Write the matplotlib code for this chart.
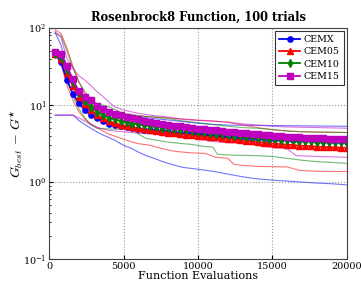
import matplotlib
matplotlib.use("Agg")
import matplotlib.pyplot as plt
from matplotlib.ticker import LogLocator, NullFormatter

plt.rcParams['font.family'] = ['DejaVu Serif']
plt.rcParams['mathtext.fontset'] = 'cm'

# evaluation grid for the marked (mean) curves
evals = [400, 800, 1200, 1600, 2000, 2400, 2800, 3200, 3600, 4000,
         4400, 4800, 5200, 5600, 6000, 6400, 6800, 7200, 7600, 8000,
         8400, 8800, 9200, 9600, 10000, 10400, 10800, 11200, 11600, 12000,
         12400, 12800, 13200, 13600, 14000, 14400, 14800, 15200, 15600, 16000,
         16400, 16800, 17200, 17600, 18000, 18400, 18800, 19200, 19600, 20000]

cemx = [48, 36, 21, 14, 10.5, 8.6, 7.4, 6.7, 6.15, 5.75,
        5.5, 5.3, 5.15, 5.0, 4.9, 4.8, 4.72, 4.63, 4.55, 4.48,
        4.4, 4.34, 4.28, 4.22, 4.17, 4.12, 4.07, 4.02, 3.98, 3.94,
        3.9, 3.86, 3.82, 3.78, 3.74, 3.7, 3.67, 3.64, 3.61, 3.58,
        3.55, 3.52, 3.5, 3.48, 3.46, 3.44, 3.42, 3.4, 3.38, 3.36]
cem05 = [46, 40, 26, 17.5, 12.8, 10.2, 8.5, 7.4, 6.7, 6.2,
         5.85, 5.55, 5.3, 5.12, 4.97, 4.83, 4.7, 4.6, 4.5, 4.4,
         4.3, 4.22, 4.14, 4.06, 4.0, 3.93, 3.87, 3.8, 3.73, 3.66,
         3.58, 3.5, 3.44, 3.38, 3.32, 3.26, 3.2, 3.15, 3.1, 3.06,
         3.02, 2.98, 2.95, 2.92, 2.89, 2.86, 2.84, 2.82, 2.8, 2.78]
cem10 = [46, 42, 29, 20, 14.5, 11.4, 9.4, 8.2, 7.4, 6.85,
         6.5, 6.2, 5.95, 5.75, 5.6, 5.45, 5.32, 5.2, 5.1, 5.0,
         4.9, 4.8, 4.7, 4.6, 4.5, 4.42, 4.34, 4.26, 4.18, 4.1,
         4.02, 3.95, 3.88, 3.82, 3.76, 3.7, 3.65, 3.6, 3.56, 3.52,
         3.48, 3.45, 3.42, 3.39, 3.36, 3.34, 3.32, 3.3, 3.28, 3.26]
cem15 = [49, 45.5, 32, 21.5, 15, 12.8, 11.5, 9.8, 9.0, 8.2,
         7.7, 7.35, 7.05, 6.75, 6.5, 6.3, 6.1, 5.9, 5.72, 5.55,
         5.4, 5.27, 5.15, 5.05, 4.95, 4.85, 4.76, 4.68, 4.6, 4.52,
         4.45, 4.38, 4.31, 4.24, 4.18, 4.12, 4.06, 4.0, 3.95, 3.9,
         3.86, 3.82, 3.78, 3.74, 3.71, 3.68, 3.65, 3.62, 3.6, 3.58]

# thin lines: best / worst trial envelopes
cemx_lo_ev = [400, 1600, 2000, 2400, 2800, 3200, 3600, 4000, 4400, 5000, 5600, 6000, 6400, 7000, 7600, 8000,
              8600, 9000, 10000, 11000, 12000, 13000, 14000, 15000, 16000, 17000, 18000, 19000, 20000]
cemx_lo = [7.4, 7.4, 6.3, 5.6, 5.0, 4.5, 4.1, 3.8, 3.5, 3.0, 2.7, 2.45, 2.25, 2.05, 1.85, 1.75,
           1.62, 1.55, 1.47, 1.38, 1.27, 1.17, 1.1, 1.06, 1.03, 1.0, 0.97, 0.95, 0.92]
cemx_hi_ev = [400, 800, 1200, 1600, 2000, 2400, 2800, 3200, 4000, 5000, 6000, 7000, 8000, 9000, 10000,
              11000, 12000, 14000, 16000, 18000, 20000]
cemx_hi = [88, 60, 30, 20, 15, 12, 10, 9, 8, 7.4, 7.0, 6.7, 6.4, 6.1, 5.8, 5.6, 5.5, 5.45, 5.4, 5.35, 5.3]

cem05_lo_ev = [400, 800, 1200, 1600, 2000, 2400, 2800, 3200, 3600, 4000, 4500, 5000, 5600, 6000, 6800, 7500,
               8000, 8500, 9500, 10500, 11200, 12000, 12400, 13000, 14000, 16000, 16800, 18000, 20000]
cem05_lo = [45, 34, 18, 11.5, 8.2, 6.6, 5.7, 5.1, 4.6, 4.2, 3.9, 3.6, 3.3, 3.15, 3.0, 2.75,
            2.6, 2.5, 2.4, 2.35, 2.1, 2.03, 1.7, 1.65, 1.6, 1.57, 1.42, 1.38, 1.37]
cem05_hi_ev = [400, 800, 1200, 1600, 2000, 2400, 2800, 3200, 4000, 5000, 6000, 7000, 8000, 9000, 10000,
               11000, 12000, 13000, 14000, 15000, 16000, 17000, 18000, 20000]
cem05_hi = [95, 85, 55, 32, 20, 14, 11, 9.5, 8.3, 7.6, 7.2, 7.0, 6.8, 6.6, 6.4,
            6.2, 6.0, 5.5, 5.1, 4.8, 4.6, 4.5, 4.45, 4.4]

cem10_lo_ev = [400, 800, 1200, 1600, 2000, 2400, 2800, 3200, 4000, 5600, 6000, 6500, 7200, 8000, 9000,
               9500, 10400, 11000, 11300, 12000, 14000, 15000, 16000, 17000, 18000, 19000, 20000]
cem10_lo = [46, 38, 22, 13, 9.0, 6.8, 5.5, 5.0, 4.9, 4.8, 4.2, 3.7, 3.5, 3.3, 3.15,
            3.1, 2.9, 2.85, 2.3, 2.25, 2.2, 2.15, 2.03, 1.92, 1.84, 1.8, 1.75]
cem10_hi_ev = [400, 800, 1200, 1600, 2000, 2400, 2800, 3200, 4000, 5000, 6000, 7000, 8000, 9000, 10000,
               11000, 12000, 13000, 14000, 15000, 16000, 17000, 20000]
cem10_hi = [85, 80, 50, 30, 20, 15, 12, 10.5, 9.5, 7.8, 7.3, 7.0, 6.7, 6.2, 5.9,
            5.6, 5.3, 5.1, 5.0, 4.8, 4.6, 4.5, 4.4]

cem15_lo_ev = [400, 1600, 2000, 2400, 2800, 3200, 3600, 4000, 5000, 6000, 7000, 8000, 9000, 10000,
               11000, 12000, 13000, 14000, 15000, 16000, 16600, 18000, 20000]
cem15_lo = [7.4, 7.4, 6.8, 6.2, 5.6, 5.2, 4.9, 4.7, 4.5, 4.3, 4.2, 4.1, 3.9, 3.6,
            3.35, 3.25, 3.2, 3.0, 2.8, 2.7, 2.2, 2.15, 2.1]
cem15_hi_ev = [400, 800, 1200, 1600, 2000, 2400, 2800, 3200, 3600, 4000, 4400, 5000, 6000, 7000, 8000,
               9000, 10000, 11000, 12000, 13000, 14000, 15000, 16000, 18000, 20000]
cem15_hi = [90, 75, 40, 30, 24, 21, 18, 15, 13, 11, 9.5, 8.6, 7.8, 7.3, 7.0,
            6.5, 6.3, 6.2, 6.0, 5.7, 5.5, 5.3, 5.2, 5.1, 5.0]

labels = ['CEMX', 'CEM05', 'CEM10', 'CEM15']
colors = ['b', 'r', 'g', 'm']
markers = ['o', '^', 'd', 's']

fig = plt.figure(figsize=(3.61, 2.86), dpi=100)
ax = fig.add_axes([0.136, 0.094, 0.825, 0.808])

thin = [(cemx_lo_ev, cemx_lo, cemx_hi_ev, cemx_hi),
        (cem05_lo_ev, cem05_lo, cem05_hi_ev, cem05_hi),
        (cem10_lo_ev, cem10_lo, cem10_hi_ev, cem10_hi),
        (cem15_lo_ev, cem15_lo, cem15_hi_ev, cem15_hi)]
for (le, lv, he, hv), c in zip(thin, colors):
    ax.plot(le, lv, color=c, lw=0.8, alpha=0.55)
    ax.plot(he, hv, color=c, lw=0.8, alpha=0.55)

for vals, c, m, lab in zip([cemx, cem05, cem10, cem15], colors, markers, labels):
    ax.plot(evals, vals, color=c, marker=m, lw=1.3, markersize=3.8,
            markeredgecolor=c, label=lab)

ax.set_yscale('log')
ax.set_xlim(0, 20000)
ax.set_ylim(0.1, 100)
ax.set_xticks([0, 5000, 10000, 15000, 20000])
ax.yaxis.set_minor_locator(LogLocator(base=10, subs=range(2, 10)))
ax.yaxis.set_minor_formatter(NullFormatter())
ax.tick_params(labelsize=6.9, direction='in', which='both', pad=2)
ax.tick_params(which='major', length=3)
ax.tick_params(which='minor', length=1.5)
ax.grid(True, which='major', linestyle=':', color='#999999', lw=0.8)

ax.set_title('Rosenbrock8 Function, 100 trials', fontsize=8.3, fontweight='bold', pad=5)
ax.set_xlabel('Function Evaluations', fontsize=8, labelpad=0)
ax.set_ylabel(r'$G_{best}\,-\,G^{\star}$', fontsize=10)
ax.yaxis.set_label_coords(-0.08, 0.5)

leg = ax.legend(loc='upper right', fontsize=6.8, fancybox=False, edgecolor='black',
                handlelength=2.2, borderpad=0.45, labelspacing=0.35, handletextpad=0.4,
                borderaxespad=0.3)
leg.get_frame().set_linewidth(0.8)

for s in ax.spines.values():
    s.set_color('#444444')

fig.savefig('out.png', dpi=100)
